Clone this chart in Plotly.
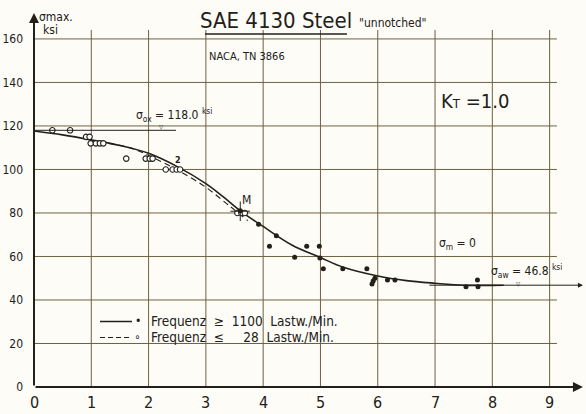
import plotly.graph_objects as go

# ---- data ----
x_ticks = [0, 1, 2, 3, 4, 5, 6, 7, 8, 9]
y_ticks = [0, 20, 40, 60, 80, 100, 120, 140, 160]

# solid curve (Frequenz >= 1100 Lastw./Min.)
curve_hi_x = [0, 0.5, 1.0, 1.5, 2.0, 2.5, 3.0, 3.3, 3.6, 4.0, 4.5, 5.0, 5.4, 6.0, 6.5, 7.0, 7.5, 8.2]
curve_hi_y = [117.7, 115.9, 113.6, 111.0, 107.4, 101.3, 93.5, 87.5, 81.0, 73.8, 65.3, 59.5, 55.0, 51.0, 48.9, 47.7, 46.8, 46.8]

# dashed curve (Frequenz <= 28 Lastw./Min.)
curve_lo_x = [1.3, 1.7, 2.0, 2.5, 3.0, 3.4, 3.73]
curve_lo_y = [112.0, 109.8, 106.4, 99.8, 91.8, 83.5, 76.5]

# filled points (high frequency)
pts_hi_x = [3.60, 3.92, 4.11, 4.23, 4.55, 4.76, 4.98, 4.99, 5.05, 5.39, 5.81, 5.95, 5.92, 5.90, 6.17, 6.30, 7.54, 7.75, 7.74]
pts_hi_y = [81.0, 74.8, 64.7, 69.5, 59.7, 64.7, 64.7, 59.3, 54.3, 54.3, 54.3, 50.0, 48.7, 47.3, 49.2, 49.2, 46.1, 46.1, 49.2]

# open points (low frequency)
pts_lo_x = [0.32, 0.63, 0.91, 0.97, 0.99, 1.08, 1.15, 1.21, 1.61, 1.95, 2.02, 2.07, 2.30, 2.42, 2.49, 2.55, 3.55, 3.62, 3.68]
pts_lo_y = [118, 118, 115, 115, 112, 112, 112, 112, 105, 105, 105, 105, 100, 100, 100, 100, 80, 80, 80]

sigma_ox = 118.0
sigma_aw = 46.8
point_M = (3.60, 80.8)

FONT = "DejaVu Sans Condensed, Liberation Sans Narrow, Roboto Condensed, DejaVu Sans, sans-serif"
INK = "#222018"
GRID = "#6f6242"
BG = "#fdfcf7"

# pixel -> data helpers for layout placement (plot area: x 0 -> 34px, 57.3px/unit; y 0 -> 387px, 2.175px/unit)
def X(px):
    return (px - 34) / 57.3

def Y(py):
    return (387 - py) / 2.175

fig = go.Figure()

fig.add_trace(go.Scatter(x=curve_hi_x, y=curve_hi_y, mode="lines",
                         line=dict(color=INK, width=1.6, shape="spline", smoothing=1.0),
                         showlegend=False, hoverinfo="skip"))
fig.add_trace(go.Scatter(x=curve_lo_x, y=curve_lo_y, mode="lines",
                         line=dict(color=INK, width=1.1, dash="6px,4px", shape="spline", smoothing=1.0),
                         showlegend=False, hoverinfo="skip"))
fig.add_trace(go.Scatter(x=pts_lo_x, y=pts_lo_y, mode="markers",
                         marker=dict(symbol="circle", size=5.5, color="white",
                                     line=dict(color=INK, width=1.1)),
                         showlegend=False))
fig.add_trace(go.Scatter(x=pts_hi_x, y=pts_hi_y, mode="markers",
                         marker=dict(symbol="circle", size=5, color=INK),
                         showlegend=False))
# crosshair at point M
fig.add_trace(go.Scatter(x=[point_M[0]], y=[point_M[1]], mode="markers",
                         marker=dict(symbol="cross-thin", size=14, line=dict(color=INK, width=1)),
                         showlegend=False, hoverinfo="skip"))

shapes = []
# grid
for xv in x_ticks[1:]:
    shapes.append(dict(type="line", xref="x", yref="y", x0=xv, x1=xv, y0=0, y1=Y(30),
                       line=dict(color=GRID, width=1), layer="below"))
for yv in y_ticks[1:]:
    shapes.append(dict(type="line", xref="x", yref="y", x0=0, x1=X(557), y0=yv, y1=yv,
                       line=dict(color=GRID, width=1), layer="below"))
# sigma_ox line
shapes.append(dict(type="line", xref="x", yref="y", x0=0, x1=X(176), y0=sigma_ox, y1=sigma_ox,
                   line=dict(color=INK, width=1)))
# title underline
shapes.append(dict(type="line", xref="x", yref="y", x0=X(205), x1=X(347), y0=Y(34), y1=Y(34),
                   line=dict(color=INK, width=1.5)))
# legend samples
shapes.append(dict(type="line", xref="x", yref="y", x0=X(100), x1=X(132), y0=Y(321.5), y1=Y(321.5),
                   line=dict(color=INK, width=1.3)))
shapes.append(dict(type="line", xref="x", yref="y", x0=X(100), x1=X(132), y0=Y(337.5), y1=Y(337.5),
                   line=dict(color=INK, width=1.1, dash="5px,3px")))

ann = []
# axis arrows
ann.append(dict(x=0, y=Y(13), ax=0, ay=0, xref="x", yref="y", axref="x", ayref="y", text="",
                showarrow=True, arrowhead=2, arrowsize=1, arrowwidth=2, arrowcolor=INK))
ann.append(dict(x=X(583), y=0, ax=0, ay=0, xref="x", yref="y", axref="x", ayref="y", text="",
                showarrow=True, arrowhead=2, arrowsize=1, arrowwidth=2, arrowcolor=INK))
# sigma_aw line with arrow
ann.append(dict(x=X(583), y=sigma_aw, ax=X(428), ay=sigma_aw, xref="x", yref="y", axref="x", ayref="y",
                text="", showarrow=True, arrowhead=2, arrowsize=1, arrowwidth=1, arrowcolor=INK))

def txt(s, px, py, size, xanchor="left", yanchor="middle", color=INK):
    ann.append(dict(x=X(px), y=Y(py), xref="x", yref="y", text=s, showarrow=False,
                    xanchor=xanchor, yanchor=yanchor, borderpad=0,
                    font=dict(family=FONT, size=size, color=color)))

# x tick labels (placed just under the axis, from the tick list)
for xv in x_ticks:
    ann.append(dict(x=xv, y=(387 - 392) / 377.0, xref="x", yref="paper", text=str(xv), showarrow=False,
                    xanchor="center", yanchor="top", borderpad=0,
                    font=dict(family=FONT, size=16, color=INK)))

txt("σmax.", 38, 17, 12)
txt("ksi", 42, 30, 12)
txt("SAE 4130 Steel", 276, 21, 22, xanchor="center")
txt("\"unnotched\"", 358, 23, 12)
txt("NACA, TN 3866", 208, 57, 11)
txt("K<span style='font-size:13px'>T</span> =1.0", 440, 101, 20)
txt("σ<sub>ox</sub> = 118.0 <sup>ksi</sup>", 135, 115, 12)
txt("σ<sub>m</sub> = 0", 438, 244, 12)
txt("σ<sub>aw</sub> = 46.8 <sup>ksi</sup>", 490, 271, 12)
txt("M", 247, 200, 12, xanchor="center")
txt("<b>2</b>", 178, 160, 9, xanchor="center")
txt("▽", 162, 127, 6, xanchor="center")
txt("▽", 519, 283.5, 6, xanchor="center")
# legend
txt("•", 138, 321, 12, xanchor="center")
txt("∘", 138, 337, 12, xanchor="center")
txt("Frequenz  ≥  1100  Lastw./Min.", 150, 321.5, 13.5)
txt("Frequenz  ≤     28  Lastw./Min.", 150, 337.5, 13.5)

fig.update_layout(
    width=586, height=414,
    margin=dict(l=34, r=2, t=10, b=27),
    paper_bgcolor=BG, plot_bgcolor=BG,
    shapes=shapes, annotations=ann,
    xaxis=dict(range=[0, 9.6], tickvals=x_ticks, showticklabels=False,
               showgrid=False, zeroline=False, showline=False, ticks=""),
    yaxis=dict(range=[0, 173.3], tickvals=y_ticks, ticktext=[str(v) for v in y_ticks],
               showgrid=False, zeroline=False, showline=False, ticks="",
               tickfont=dict(family=FONT, size=12, color=INK), ticklabelstandoff=10),
    showlegend=False,
)

fig.write_html("out.html", config={"displayModeBar": False},
               post_script="document.body.style.margin='0';document.body.style.overflow='hidden';")
